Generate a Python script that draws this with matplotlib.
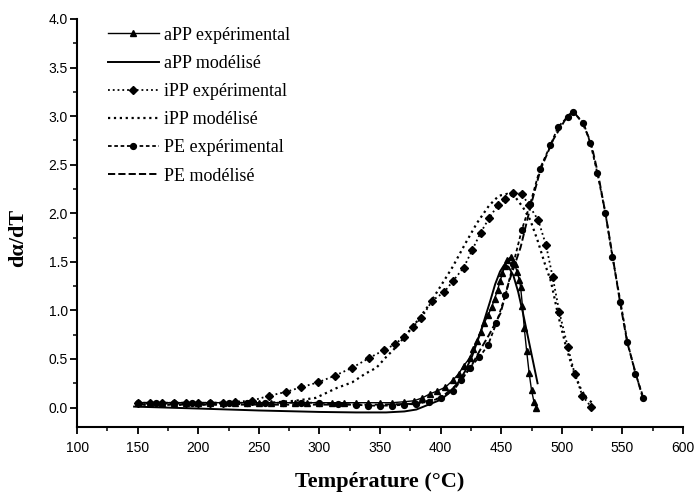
import matplotlib
matplotlib.use('Agg')
import matplotlib.pyplot as plt
from matplotlib.ticker import MultipleLocator

# aPP experimental (triangles)
app_exp_T = [150, 160, 170, 180, 190, 200, 210, 220, 230, 240, 250, 260, 270, 280, 290,
             300, 310, 320, 330, 340, 350, 360, 370, 378, 385, 391, 397, 404, 410, 415,
             419, 424, 427, 430, 433, 436, 439, 442, 444.5, 447, 449, 451, 453, 455,
             458, 461, 463, 465, 466, 467.5, 469, 471, 473, 475, 477, 479]
app_exp_y = [0.05, 0.05, 0.05, 0.05, 0.05, 0.05, 0.05, 0.05, 0.05, 0.05, 0.05, 0.05, 0.05, 0.05, 0.05,
             0.05, 0.05, 0.05, 0.05, 0.05, 0.05, 0.05, 0.06, 0.07, 0.10, 0.14, 0.17, 0.21, 0.28, 0.35,
             0.43, 0.51, 0.60, 0.69, 0.78, 0.87, 0.95, 1.03, 1.12, 1.21, 1.30, 1.38, 1.46, 1.52,
             1.55, 1.48, 1.40, 1.31, 1.24, 1.05, 0.82, 0.58, 0.36, 0.18, 0.06, 0.0]

# aPP modelled (solid)
app_mod_T = [147, 200, 250, 300, 330, 355, 370, 380, 390, 400, 407, 414, 420, 426, 432,
             437, 441, 445, 449, 452.5, 456, 460, 464, 468, 472, 476, 480]
app_mod_y = [0.01, -0.01, -0.03, -0.045, -0.05, -0.05, -0.04, -0.02, 0.03, 0.08, 0.15, 0.25, 0.37, 0.53, 0.74,
             0.94, 1.10, 1.27, 1.40, 1.47, 1.45, 1.36, 1.19, 0.97, 0.73, 0.49, 0.25]

# iPP experimental (diamonds)
ipp_exp_T = [150, 160, 170, 180, 190, 200, 210, 220, 230, 244, 258, 272, 285, 299, 313,
             327, 341, 353, 362, 370, 377, 384, 393, 403, 410, 419, 426, 433, 440, 447,
             453.5, 460, 467, 473, 480.5, 487, 492.5, 498, 505, 510.6, 517, 524]
ipp_exp_y = [0.05, 0.05, 0.05, 0.05, 0.05, 0.05, 0.05, 0.05, 0.06, 0.07, 0.12, 0.16, 0.21, 0.26, 0.33,
             0.41, 0.51, 0.59, 0.65, 0.73, 0.83, 0.92, 1.10, 1.19, 1.30, 1.44, 1.62, 1.80, 1.95, 2.08,
             2.15, 2.21, 2.20, 2.08, 1.93, 1.67, 1.34, 0.98, 0.62, 0.35, 0.12, 0.01]

# iPP modelled (dotted)
ipp_mod_T = [150, 200, 250, 280, 297, 314, 327, 338, 347, 355, 363, 371, 380, 390, 400,
             410, 420, 430, 440, 448, 455, 462, 468, 474, 480, 486, 491, 497, 503, 509,
             515, 520, 525]
ipp_mod_y = [0.03, 0.03, 0.04, 0.07, 0.10, 0.20, 0.26, 0.35, 0.41, 0.52, 0.62, 0.74, 0.88, 1.05, 1.25,
             1.45, 1.68, 1.90, 2.08, 2.18, 2.20, 2.16, 2.06, 1.93, 1.72, 1.48, 1.30, 0.95, 0.65, 0.40,
             0.21, 0.10, 0.05]

# PE experimental (circles)
pe_exp_T = [150, 165, 180, 195, 210, 225, 240, 255, 270, 285, 300, 315, 330, 340, 350,
            360, 370, 380, 390, 400, 410, 417, 424, 432, 439, 446, 453.5, 460, 467, 474,
            482, 490.6, 497, 504.7, 509.6, 517.9, 523.6, 529.4, 536, 541.8, 548.4, 554.2, 560.8, 567.4]
pe_exp_y = [0.05, 0.05, 0.05, 0.05, 0.05, 0.05, 0.05, 0.05, 0.05, 0.05, 0.05, 0.04, 0.03, 0.02, 0.02,
            0.02, 0.03, 0.04, 0.06, 0.10, 0.17, 0.28, 0.41, 0.52, 0.64, 0.87, 1.16, 1.48, 1.83, 2.10,
            2.46, 2.70, 2.89, 2.99, 3.04, 2.93, 2.72, 2.41, 2.00, 1.55, 1.09, 0.67, 0.35, 0.10]

# PE modelled (dashed)
pe_mod_T = [150, 200, 250, 300, 350, 380, 400, 415, 425, 432, 440, 449.4, 456, 466, 474.2,
            482.4, 493, 504.6, 509.5, 517, 524, 530, 536, 542, 548, 554, 561, 568]
pe_mod_y = [0.03, 0.03, 0.03, 0.03, 0.03, 0.04, 0.10, 0.25, 0.42, 0.58, 0.75, 0.97, 1.28, 1.65, 2.07,
            2.45, 2.76, 3.00, 3.05, 2.93, 2.73, 2.40, 2.00, 1.55, 1.09, 0.67, 0.35, 0.05]

labels = ['aPP expérimental', 'aPP modélisé', 'iPP expérimental',
          'iPP modélisé', 'PE expérimental', 'PE modélisé']

fig = plt.figure(figsize=(6.95, 4.99), dpi=100)
ax = fig.add_axes([0.111, 0.1443, 0.8717, 0.8177])

k = 'black'
ax.plot(app_exp_T, app_exp_y, '-', color=k, lw=1.0, marker='^', ms=4.5, label=labels[0])
ax.plot(app_mod_T, app_mod_y, '-', color=k, lw=1.4, label=labels[1])
ax.plot(ipp_exp_T, ipp_exp_y, ':', color=k, lw=1.3, marker='D', ms=4.3, label=labels[2])
ax.plot(ipp_mod_T, ipp_mod_y, ':', color=k, lw=1.6, label=labels[3])
ax.plot(pe_exp_T, pe_exp_y, color=k, lw=1.3, ls=(0, (2, 1.5)), marker='o', ms=4.2, label=labels[4])
ax.plot(pe_mod_T, pe_mod_y, '--', color=k, lw=1.4, label=labels[5])

ax.set_xlim(100, 600)
ax.set_ylim(-0.2, 4.0)
ax.xaxis.set_major_locator(MultipleLocator(50))
ax.xaxis.set_minor_locator(MultipleLocator(25))
ax.yaxis.set_major_locator(MultipleLocator(0.5))
ax.yaxis.set_minor_locator(MultipleLocator(0.25))
ax.set_yticks([0, 0.5, 1, 1.5, 2, 2.5, 3, 3.5, 4])
ax.set_yticklabels(['0.0', '0.5', '1.0', '1.5', '2.0', '2.5', '3.0', '3.5', '4.0'])
ax.tick_params(which='major', direction='out', length=5, width=1.3, labelsize=10)
ax.tick_params(axis='x', which='major', pad=5)
ax.tick_params(axis='y', which='major', pad=1.5)
ax.tick_params(which='minor', direction='out', length=3, width=1.1)
for lab in ax.get_xticklabels() + ax.get_yticklabels():
    lab.set_family('Liberation Sans')

for s in ['top', 'right']:
    ax.spines[s].set_visible(False)
for s in ['left', 'bottom']:
    ax.spines[s].set_linewidth(1.5)

ax.set_xlabel('Température (°C)', family='Liberation Serif', fontweight='bold', fontsize=16, labelpad=12)
ax.set_ylabel('dα/dT', family='Liberation Serif', fontweight='bold', fontsize=16)
ax.yaxis.set_label_coords(-0.081, 0.463)

ax.legend(loc='upper left', bbox_to_anchor=(0.045, 0.99), frameon=False,
          prop={'family': 'Liberation Serif', 'size': 13}, handlelength=2.8,
          handletextpad=0.3, labelspacing=0.62, borderaxespad=0, borderpad=0.2)

fig.savefig('out.png', dpi=100)
